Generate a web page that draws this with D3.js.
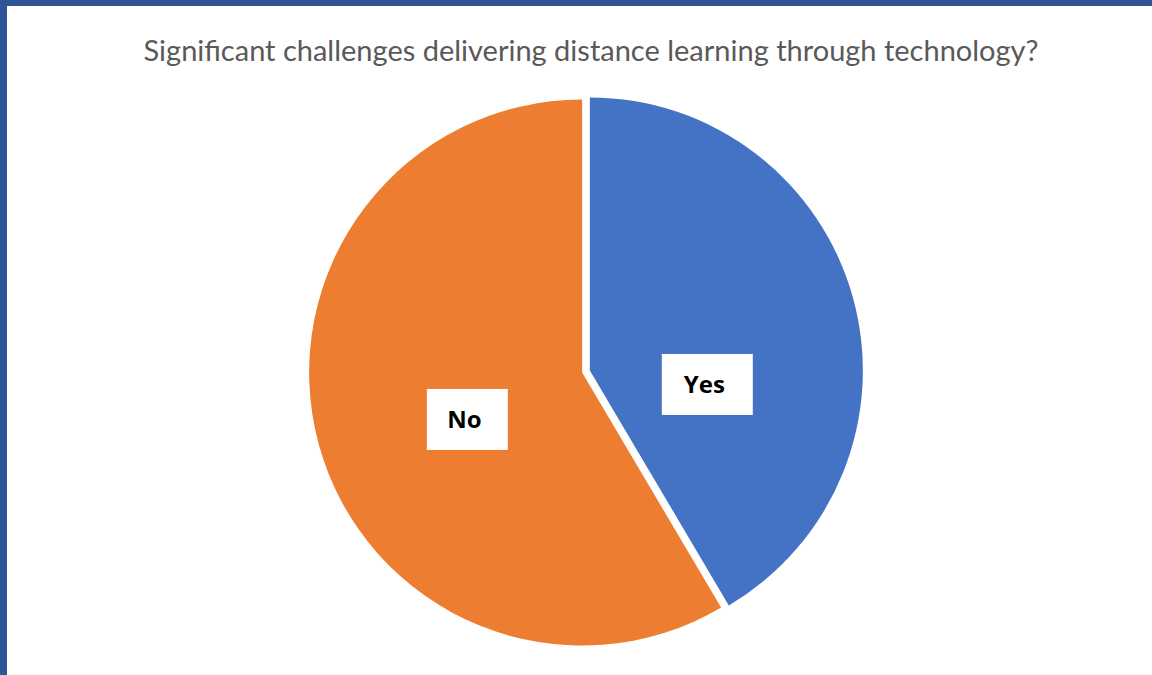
<!DOCTYPE html>
<html>
<head>
<meta charset="utf-8">
<script src="https://cdn.jsdelivr.net/npm/d3@7"></script>
<style>
    html, body { margin: 0; padding: 0; background: #ffffff; }
    svg { display: block; }
</style>
</head>
<body>
<svg id="chart" width="1152" height="675"></svg>
<script>
// chart data
const categories = ["Yes", "No"];
const shares = [41.5, 58.5];
const sliceColors = ["#4472C4", "#ED7D31"];
const chartTitle = "Significant challenges delivering distance learning through technology?";

// layout
const width = 1152;
const height = 675;
const cx = 586;
const cy = 371.5;
const radius = 273;
const explode = 4;          // each slice pushed out a little, leaves a white gap
// the labels in the original were dragged off their slice middle a bit
const labelRadius = [122, 128];
const labelNudge = [21.4, -6.7];   // degrees

const svg = d3.select("#chart");

// frame: dark blue bars at top and left
svg.append("rect").attr("x", 0).attr("y", 0).attr("width", width).attr("height", 6).attr("fill", "#2F5597");
svg.append("rect").attr("x", 0).attr("y", 0).attr("width", 7).attr("height", height).attr("fill", "#2F5597");

// title, sized to span the same width as the original
const title = svg.append("text")
    .attr("x", 591)
    .attr("y", 61)
    .attr("text-anchor", "middle")
    .attr("font-family", "'Gill Sans MT', 'Gill Sans', Lato, sans-serif")
    .attr("font-size", "28px")
    .attr("fill", "#595959")
    .text(chartTitle);
const tw = title.node().getComputedTextLength();
title.attr("font-size", (28 * 895 / tw).toFixed(2) + "px");

// pie
const pie = d3.pie().sort(null).value(d => d.value);
const arcs = pie(categories.map((c, i) => ({ name: c, value: shares[i], color: sliceColors[i] })));

const arc = d3.arc().innerRadius(0).outerRadius(radius);

const g = svg.append("g").attr("transform", `translate(${cx}, ${cy})`);

g.selectAll("path")
    .data(arcs)
    .join("path")
    .attr("d", arc)
    .attr("fill", d => d.data.color)
    .attr("transform", d => {
        const mid = (d.startAngle + d.endAngle) / 2;
        return `translate(${explode * Math.sin(mid)}, ${-explode * Math.cos(mid)})`;
    });

// labels in white boxes
const labels = g.selectAll("g.label")
    .data(arcs)
    .join("g")
    .attr("class", "label")
    .attr("transform", (d, i) => {
        const a = (d.startAngle + d.endAngle) / 2 + labelNudge[i] * Math.PI / 180;
        return `translate(${labelRadius[i] * Math.sin(a)}, ${-labelRadius[i] * Math.cos(a)})`;
    });

labels.append("text")
    .attr("text-anchor", "middle")
    .attr("dy", "0.35em")
    .attr("x", -3)
    .attr("font-family", "'Open Sans', Calibri, sans-serif")
    .attr("font-weight", "bold")
    .attr("font-size", "24px")
    .attr("fill", "#000000")
    .text(d => d.data.name);

labels.insert("rect", "text")
    .attr("x", d => d.data.name === "Yes" ? -45.5 : -40.5)
    .attr("y", -30.5)
    .attr("width", d => d.data.name === "Yes" ? 91 : 81)
    .attr("height", 61)
    .attr("fill", "#ffffff");
</script>
</body>
</html>
